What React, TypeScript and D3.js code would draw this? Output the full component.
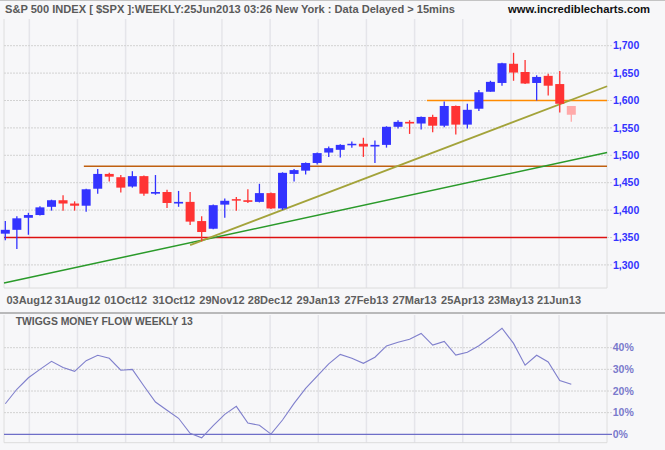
import React from "react";
import * as d3 from "d3";

// ---- data (weekly candles, Jul 2012 – Jun 2013) ----
const opens = [1357,1364,1386,1391,1406,1418,1412,1408,1439,1466,1460,1443,1462,1430,1433,1412,1415,1380,1366,1410,1420,1418,1415,1431,1403,1466,1472,1486,1505,1510,1519,1521,1516,1519,1552,1561,1558,1570,1554,1590,1556,1585,1616,1632,1667,1652,1632,1645,1630,1590];
const highs = [1380,1389,1395,1407,1419,1427,1416,1439,1475,1468,1464,1471,1463,1464,1437,1435,1433,1389,1410,1421,1424,1438,1448,1432,1469,1475,1487,1505,1516,1520,1525,1532,1527,1553,1564,1564,1571,1574,1598,1591,1594,1619,1636,1669,1687,1674,1646,1649,1654,1590];
const lows = [1345,1329,1355,1390,1399,1399,1399,1397,1430,1452,1432,1441,1426,1428,1404,1406,1373,1343,1365,1386,1399,1413,1414,1402,1400,1452,1465,1483,1497,1496,1514,1497,1486,1514,1549,1539,1547,1542,1551,1538,1549,1581,1616,1627,1636,1630,1600,1609,1578,1561];
const closes = [1364,1385,1391,1405,1418,1412,1408,1438,1466,1461,1441,1462,1430,1433,1413,1415,1379,1360,1409,1417,1419,1415,1431,1403,1468,1473,1486,1504,1513,1519,1521,1516,1519,1552,1561,1558,1570,1554,1590,1556,1583,1615,1634,1668,1651,1631,1643,1627,1594,1574];
const moneyFlow = [14.1,20.8,26.1,30.0,33.7,30.9,29.1,34.0,36.5,35.1,29.6,30.0,22.3,14.9,11.1,7.4,0.5,-1.6,4.0,9.2,12.9,5.2,4.2,0.1,6.6,14.3,21.2,26.9,32.5,36.9,35.1,32.8,35.6,40.8,42.5,43.9,46.6,41.2,42.9,36.6,37.9,40.9,44.8,49.0,42.0,31.9,36.5,33.4,24.8,23.1];

const xTickLabels = ["03Aug12","31Aug12","01Oct12","31Oct12","29Nov12","28Dec12","29Jan13","27Feb13","27Mar13","25Apr13","23May13","21Jun13"];
const priceTicks = [1300,1350,1400,1450,1500,1550,1600,1650,1700];
const pctTicks = [0,10,20,30,40];

// support / resistance levels: [price, start candle index]
const levelPrices = [1350, 1480, 1600];
const levelStarts = [-0.11, 6.8, 36.5];
// trendlines: [startIdx, startPrice, endIdx, endPrice]
const olivePts = [16, 1336, 52.1, 1626];
const greenPts = [-0.11, 1267, 52.1, 1505];

const W = 665, H = 450;
const L = 4, R = 607;
const mTop = 19, mBot = 288;
const lTop = 315, lBot = 442.7;

export default function App() {
  const x = d3.scaleLinear().domain([0, 49]).range([5.3, 571.3]);
  const y = d3.scaleLinear().domain([1300, 1700]).range([264.9, 45.7]);
  const yp = d3.scaleLinear().domain([0, 40]).range([434.3, 347.7]);
  const xt = d3.scalePoint<string>().domain(xTickLabels).range([x(2.08), x(47.94)]);
  const fmt = d3.format(",");
  const mfLine = d3.line<number>().x((_, i) => x(i)).y((v) => yp(v));
  const font = "'Liberation Sans', Arial, sans-serif";
  const levelColors = ["#dd1111", "#c06010", "#ff8a00"];

  return (
    <div style={{ position: "absolute", left: 0, top: 0 }}>
      <svg width={W} height={H} style={{ display: "block", background: "#f7f7f9" }} fontFamily={font}>
        <line x1={0} x2={W} y1={0.5} y2={0.5} stroke="#c4c4c4" />
        <text x={5} y={13} fontSize={11} fontWeight="bold" fill="#5a5a5a" textLength={450} lengthAdjust="spacingAndGlyphs">
          S&amp;P 500 INDEX [ $SPX ]:WEEKLY:25Jun2013 03:26 New York : Data Delayed &gt; 15mins
        </text>
        <text x={508} y={13} fontSize={11} fontWeight="bold" fill="#111" textLength={142} lengthAdjust="spacingAndGlyphs">
          www.incrediblecharts.com
        </text>

        {/* vertical gridlines */}
        {xTickLabels.map((t) => (
          <g key={"vg" + t}>
            <line x1={xt(t)} x2={xt(t)} y1={mTop} y2={mBot} stroke="#e5e5ea" strokeWidth={1.5} />
            <line x1={xt(t)} x2={xt(t)} y1={lTop} y2={lBot} stroke="#e5e5ea" strokeWidth={1.5} />
          </g>
        ))}
        {/* frames */}
        <line x1={L} x2={L} y1={mTop} y2={mBot} stroke="#dedede" />
        <line x1={R} x2={R} y1={mTop} y2={mBot} stroke="#dedede" />
        <line x1={L} x2={R} y1={mBot} y2={mBot} stroke="#dcdcdc" />
        <line x1={L} x2={L} y1={lTop} y2={lBot} stroke="#dedede" />
        <line x1={R} x2={R} y1={lTop} y2={lBot} stroke="#dedede" />
        <line x1={L} x2={R} y1={lBot} y2={lBot} stroke="#dcdcdc" />

        {/* horizontal price gridlines */}
        {priceTicks.map((p) => (
          <g key={"pg" + p}>
            <line x1={L} x2={612} y1={y(p)} y2={y(p)} stroke="#d2d2d2" strokeDasharray="2,1" />
            <text x={613} y={y(p)} dy="0.35em" fontSize={10.5} fontWeight="bold" fill="#3333ff">{fmt(p)}</text>
          </g>
        ))}

        {/* levels */}
        {levelPrices.map((p, i) => (
          <line key={"lv" + i} x1={Math.max(L, x(levelStarts[i]))} x2={R} y1={y(p)} y2={y(p)} stroke={levelColors[i]} strokeWidth={1.4} />
        ))}
        {/* trendlines */}
        <line x1={x(greenPts[0])} y1={y(greenPts[1])} x2={x(greenPts[2])} y2={y(greenPts[3])} stroke="#2a9a2a" strokeWidth={1.5} />
        <line x1={x(olivePts[0])} y1={y(olivePts[1])} x2={x(olivePts[2])} y2={y(olivePts[3])} stroke="#a3a33a" strokeWidth={1.8} />

        {/* candles */}
        {opens.map((o, i) => {
          const c = closes[i];
          const last = i === opens.length - 1;
          const up = c >= o;
          const col = last ? "#ffaaaa" : up ? "#3333ff" : "#ff3333";
          const top = y(Math.max(o, c));
          const bot = y(Math.min(o, c));
          return (
            <g key={"c" + i}>
              <line x1={x(i)} x2={x(i)} y1={y(highs[i])} y2={y(lows[i])} stroke={col} strokeWidth={1.3} />
              <rect x={x(i) - 4.5} width={9} y={top} height={Math.max(1.5, bot - top)} fill={col} />
            </g>
          );
        })}

        {/* x labels */}
        {xTickLabels.map((t) => (
          <text key={"xl" + t} x={xt(t)} y={304} textAnchor="middle" fontSize={11} fontWeight="bold" fill="#5e5e5e">{t}</text>
        ))}

        <line x1={0} x2={W} y1={313} y2={313} stroke="#a4a4a4" strokeWidth={1.5} />

        {/* lower panel */}
        <text x={15.7} y={325} fontSize={11} fontWeight="bold" fill="#5a5a5a" textLength={177} lengthAdjust="spacingAndGlyphs">TWIGGS MONEY FLOW WEEKLY 13</text>
        {pctTicks.map((p) => (
          <g key={"pt" + p}>
            {p === 0 ? (
              <line x1={L} x2={612} y1={yp(p)} y2={yp(p)} stroke="#6e6ec8" strokeWidth={1.3} />
            ) : (
              <line x1={L} x2={612} y1={yp(p)} y2={yp(p)} stroke="#d2d2d2" strokeDasharray="2,1" />
            )}
            <text x={612.7} y={yp(p)} dy="0.35em" fontSize={10.5} fontWeight="bold" fill="#7a7acc">{p}%</text>
          </g>
        ))}
        <path d={mfLine(moneyFlow) || ""} fill="none" stroke="#7f7fcc" strokeWidth={1.1} />
      </svg>
    </div>
  );
}
